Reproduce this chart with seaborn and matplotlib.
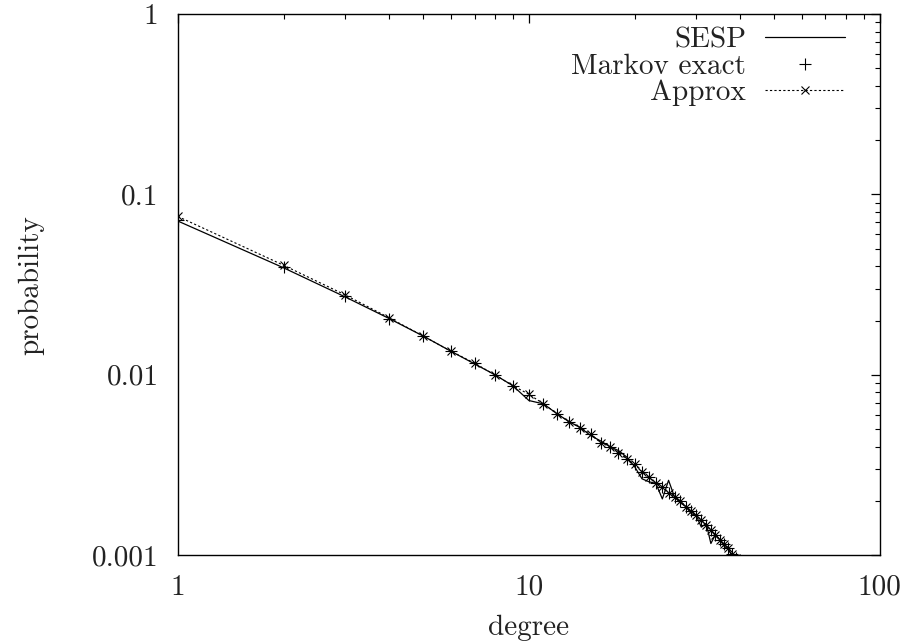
import numpy as np
import pandas as pd
import matplotlib
matplotlib.use("Agg")
import matplotlib.pyplot as plt
import seaborn as sns

# ---- data ----
degree = list(range(1, 41))

markov_exact = [0.0725, 0.0395, 0.0272, 0.0205, 0.0164, 0.0135, 0.0116, 0.0100, 0.0087, 0.0077,
                0.0069, 0.0061, 0.0055, 0.0051, 0.0047, 0.0042, 0.0040, 0.0037, 0.0034, 0.0032,
                0.0029, 0.0027, 0.0025, 0.0024, 0.0022, 0.0021, 0.0020, 0.00186, 0.00175, 0.00166,
                0.00156, 0.00147, 0.00137, 0.00129, 0.00122, 0.00115, 0.00110, 0.00102, 0.00096, 0.00090]

approx = [0.0755, 0.0405, 0.0277, 0.0207, 0.0164, 0.0135, 0.0116, 0.0100, 0.0087, 0.0078,
          0.0069, 0.0061, 0.0055, 0.0051, 0.0047, 0.0042, 0.0040, 0.0037, 0.0034, 0.0032,
          0.0029, 0.0027, 0.0025, 0.0024, 0.0022, 0.0021, 0.0020, 0.00186, 0.00175, 0.00166,
          0.00156, 0.00147, 0.00137, 0.00129, 0.00122, 0.00115, 0.00110, 0.00102, 0.00096, 0.00090]

sesp = [0.0712, 0.0392, 0.0270, 0.0205, 0.0164, 0.0135, 0.0115, 0.0100, 0.0087, 0.0072,
        0.0069, 0.0061, 0.0055, 0.0051, 0.0046, 0.0043, 0.0040, 0.0038, 0.0035, 0.0031,
        0.00265, 0.00255, 0.0025, 0.00205, 0.0026, 0.0021, 0.00195, 0.00186, 0.0017, 0.00165,
        0.00143, 0.0015, 0.00116, 0.0013, 0.00122, 0.00112, 0.00108, 0.00098, 0.00094, 0.00088]

x_ticks = [1, 10, 100]
x_ticklabels = ["1", "10", "100"]
y_ticks = [0.001, 0.01, 0.1, 1]
y_ticklabels = ["0.001", "0.01", "0.1", "1"]

df = pd.DataFrame({"degree": degree, "sesp": sesp, "markov": markov_exact, "approx": approx})

# ---- style (gnuplot look) ----
sns.set_style("white")
plt.rcParams["font.family"] = ["cmr10", "DejaVu Serif"]
plt.rcParams["axes.unicode_minus"] = False
plt.rcParams["mathtext.fontset"] = "cm"

FS = 21
TXT = "#222222"

fig = plt.figure(figsize=(9.08, 6.44), dpi=100)
ax = fig.add_axes([0.196, 0.138, 0.773, 0.84])

sns.lineplot(data=df, x="degree", y="sesp", ax=ax, color="black", lw=0.9, label="SESP")
sns.lineplot(data=df, x="degree", y="markov", ax=ax, color="black", linestyle="none",
             marker="+", markersize=8, markeredgewidth=0.8, markeredgecolor="black",
             label="Markov exact")
sns.lineplot(data=df, x="degree", y="approx", ax=ax, color="black", lw=0.8,
             linestyle=(0, (2, 2)), marker="x", markersize=6, markeredgewidth=0.8,
             markeredgecolor="black", label="Approx")

ax.set_xscale("log")
ax.set_yscale("log")
ax.set_xlim(1, 100)
ax.set_ylim(0.001, 1)
ax.set_xticks(x_ticks)
ax.set_xticklabels(x_ticklabels)
ax.set_yticks(y_ticks)
ax.set_yticklabels(y_ticklabels)

for s in ax.spines.values():
    s.set_color("black")
    s.set_linewidth(1.0)

ax.tick_params(which="both", direction="in", top=True, right=True, colors="black",
               labelcolor=TXT, labelsize=FS)
ax.tick_params(which="major", length=6.5, width=0.9, pad=14)
ax.tick_params(which="minor", length=3.5, width=0.8)

ax.set_xlabel("degree", fontsize=FS, color=TXT, labelpad=10)
ax.set_ylabel("probability", fontsize=FS, color=TXT, labelpad=34)

leg = ax.legend(loc="upper right", bbox_to_anchor=(0.951, 0.976), frameon=False,
                markerfirst=False, fontsize=FS, handlelength=2.75, labelspacing=0.0,
                handletextpad=0.65, borderaxespad=0.0, borderpad=0.0)
for t in leg.get_texts():
    t.set_color(TXT)

fig.savefig("out.png", dpi=100)
